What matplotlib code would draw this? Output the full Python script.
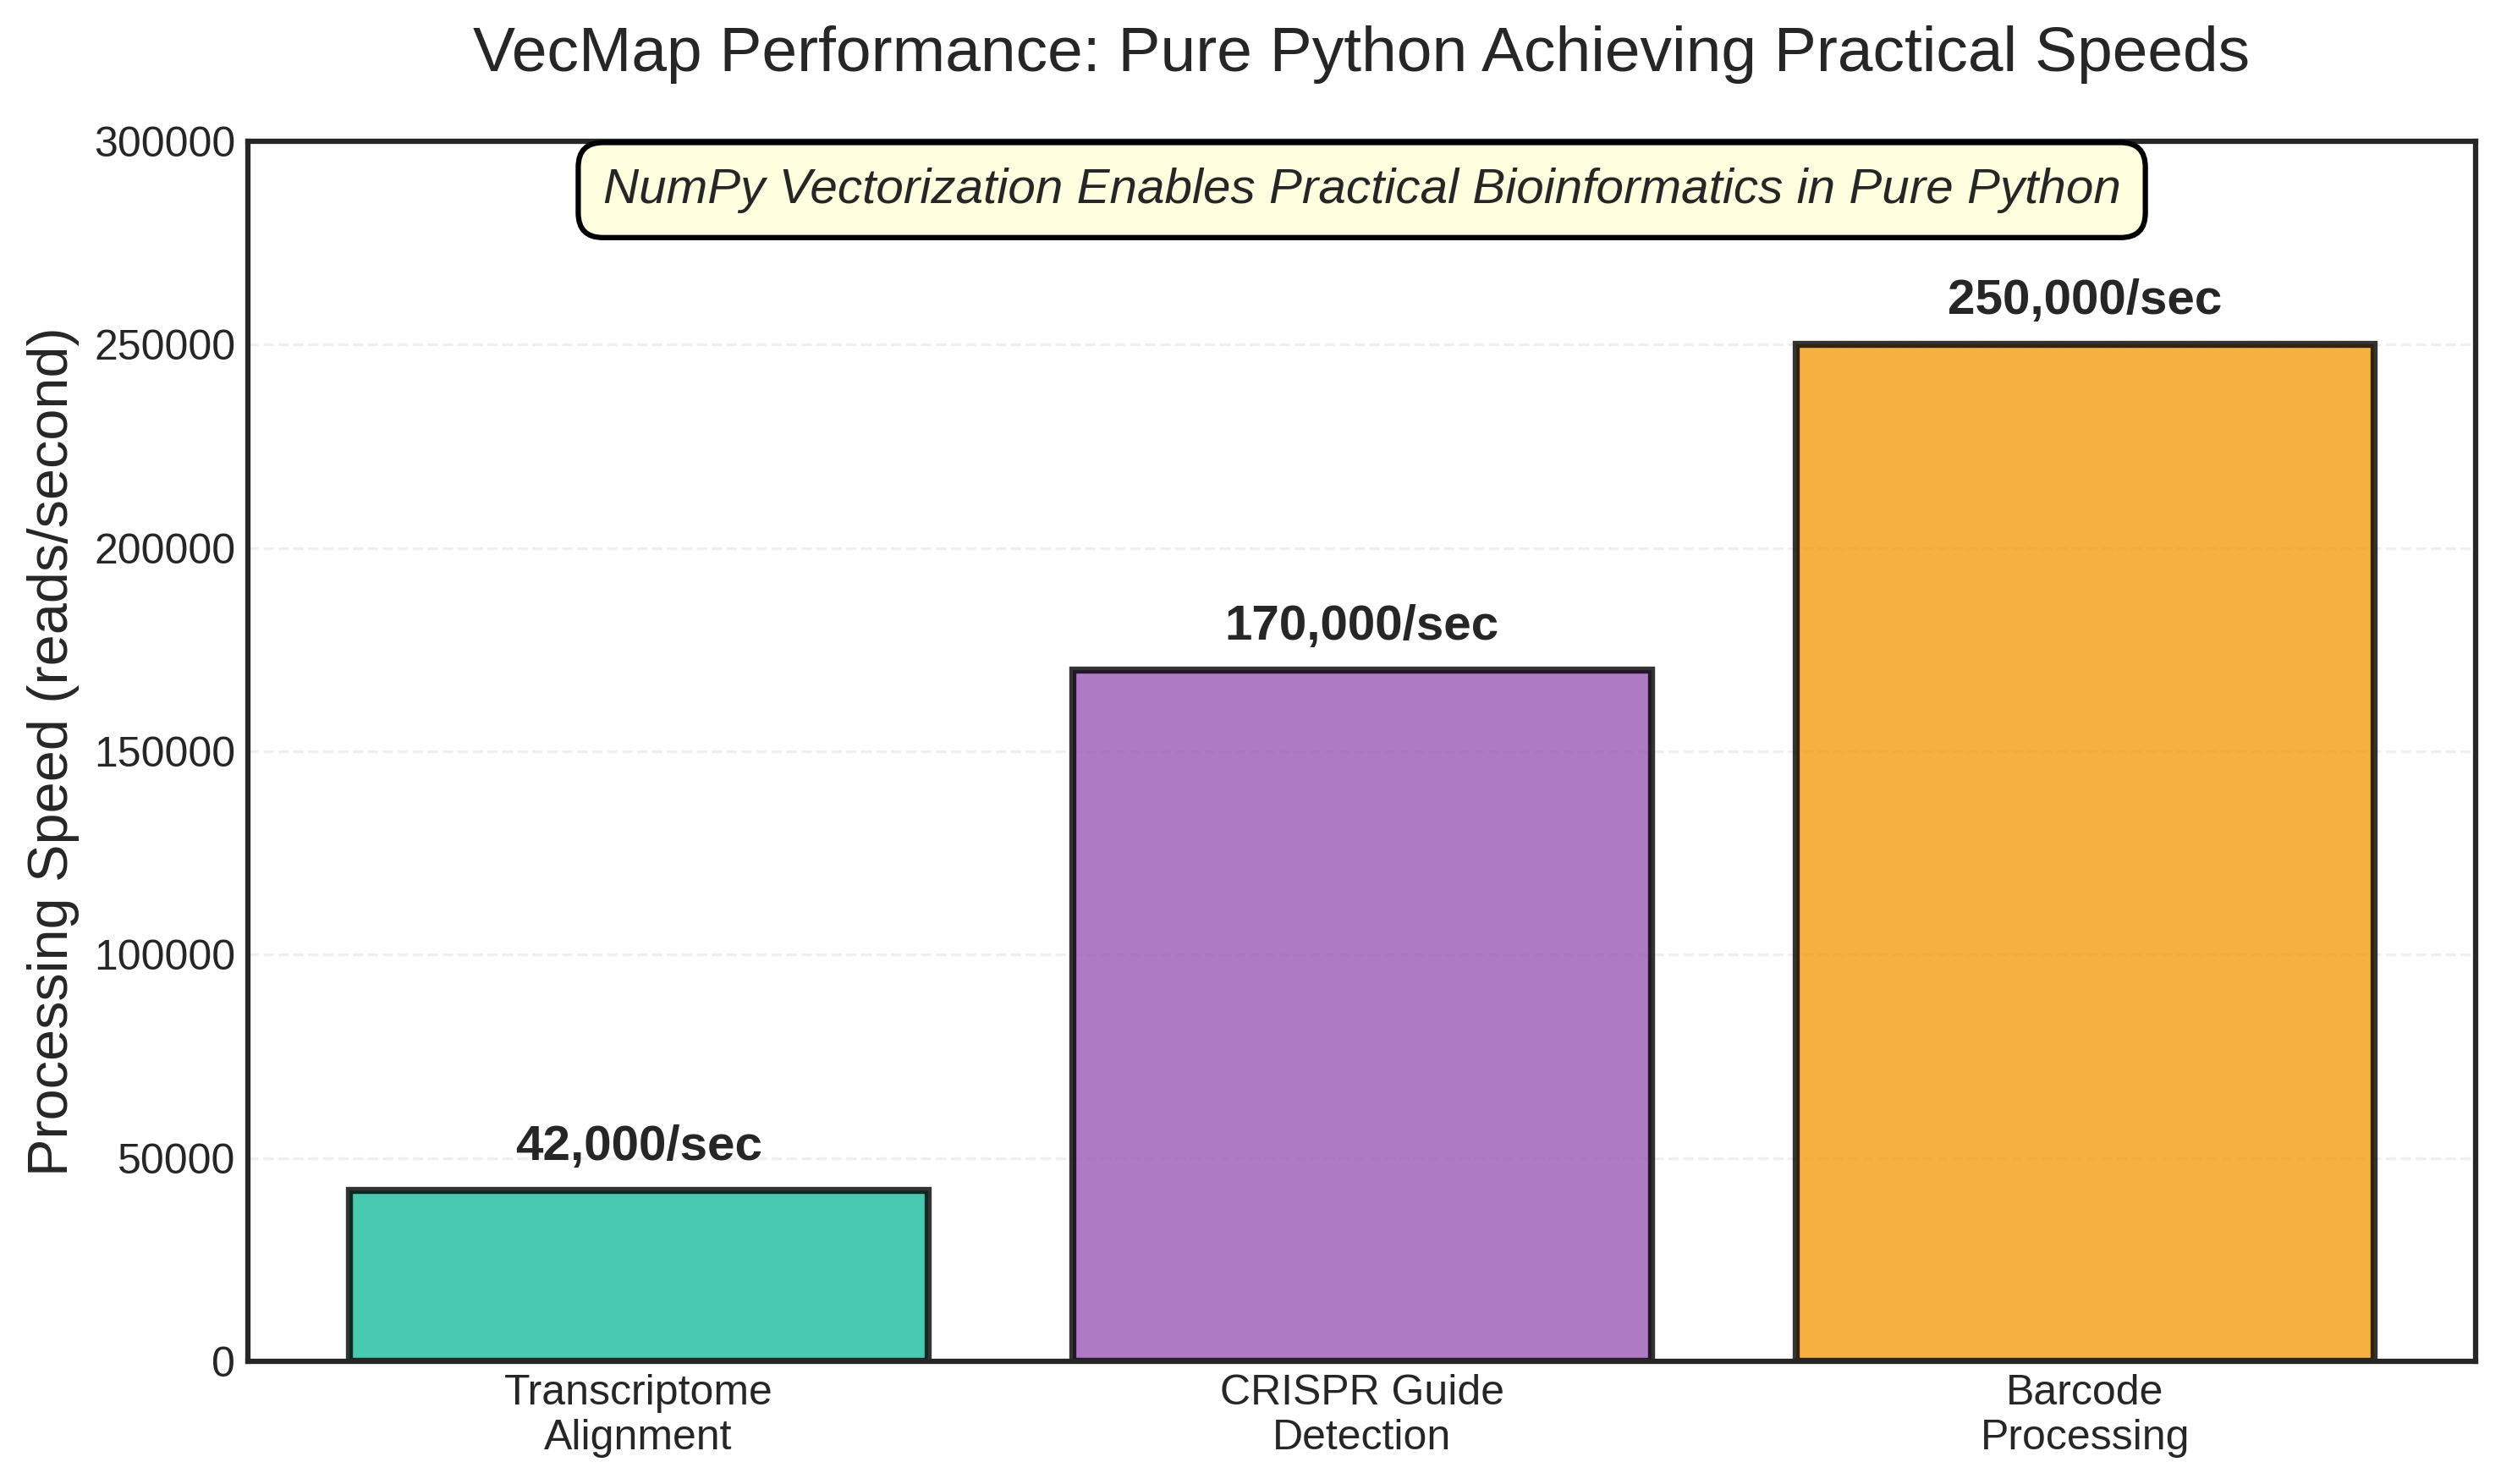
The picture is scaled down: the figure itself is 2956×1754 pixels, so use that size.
import numpy as np
import matplotlib
matplotlib.use('Agg')
import matplotlib.pyplot as plt

# data
categories = ['Transcriptome\nAlignment', 'CRISPR Guide\nDetection', 'Barcode\nProcessing']
speeds = [42000, 170000, 250000]
speed_labels = ['42,000/sec', '170,000/sec', '250,000/sec']
barColors = ['#1abc9c', '#9b59b6', '#f39c12']

plt.style.use('seaborn-v0_8-white')
plt.rcParams['font.family'] = ['Liberation Sans', 'DejaVu Sans']
plt.rcParams['axes.linewidth'] = 1.5

fig = plt.figure('VecMap', figsize=(2956/300, 1754/300), dpi=300)
ax = fig.add_axes([0.0991, 0.0827, 0.8908, 0.8221])

xpos = np.arange(len(categories))
bars = ax.bar(xpos, speeds, width=0.8, color=barColors, alpha=0.8,
              edgecolor='black', linewidth=2)

# value labels on top of the bars
for b, lab in zip(bars, speed_labels):
	ax.text(b.get_x() + b.get_width()/2, b.get_height() + 5000, lab,
	        ha='center', va='bottom', fontsize=14, fontweight='bold')

ax.set_xticks(xpos)
ax.set_xticklabels(categories, fontsize=12)
ax.tick_params(axis='y', labelsize=12)
ax.set_ylim(0, 300000)
ax.set_ylabel('Processing Speed (reads/second)', fontsize=16)
ax.set_title('VecMap Performance: Pure Python Achieving Practical Speeds', fontsize=18, pad=20)
ax.yaxis.grid(True, linestyle='--', alpha=0.3)
ax.set_axisbelow(True)

ax.text(0.5, 0.96, 'NumPy Vectorization Enables Practical Bioinformatics in Pure Python',
        transform=ax.transAxes, ha='center', va='center', fontsize=14, style='italic',
        bbox=dict(boxstyle='round,pad=0.5', facecolor='lightyellow', edgecolor='black', linewidth=1.5))

fig.savefig('out.png', dpi=300)
